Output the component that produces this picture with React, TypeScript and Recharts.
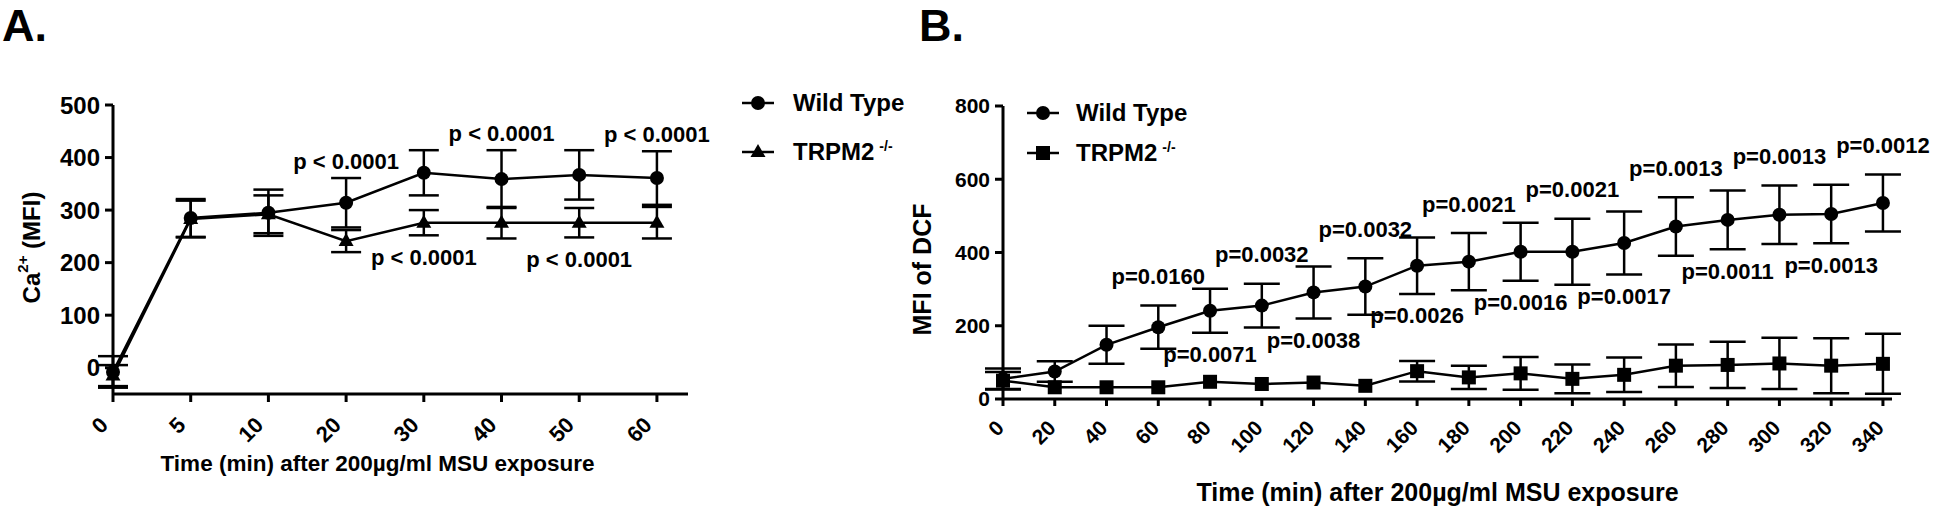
import React from "react";
import {
  ComposedChart,
  Line,
  Scatter,
  XAxis,
  YAxis,
  ErrorBar,
  Legend,
  Label,
} from "recharts";

const FONT = '"Liberation Sans", Arial, Helvetica, sans-serif';

// Panel A: Ca2+ flux
const timesA = ["0", "5", "10", "20", "30", "40", "50", "60"];
const wildTypeA = [-8, 285, 295, 314, 371, 359, 367, 361];
const wildTypeErrA = [30, 36, 44, 47, 43, 55, 47, 51];
const trpm2A = [-15, 283, 292, 241, 276, 276, 276, 276];
const trpm2ErrA = [20, 35, 36, 21, 24, 30, 28, 30];
const pAboveA = ["", "", "", "p < 0.0001", "", "p < 0.0001", "", "p < 0.0001"];
const pBelowA = ["", "", "", "", "p < 0.0001", "", "p < 0.0001", ""];
const yTicksA = [0, 100, 200, 300, 400, 500];

// Panel B: DCF (null = error bar hidden behind the symbol)
const timesB = [0, 20, 40, 60, 80, 100, 120, 140, 160, 180, 200, 220, 240, 260, 280, 300, 320, 340];
const wildTypeB = [55, 75, 148, 196, 241, 255, 291, 307, 364, 375, 402, 402, 426, 471, 489, 503, 505, 535];
const wildTypeErrB = [28, 28, 52, 59, 60, 60, 71, 77, 77, 78, 79, 90, 86, 80, 80, 80, 80, 78];
const trpm2B = [50, 32, 32, 32, 47, 41, 45, 36, 76, 59, 70, 55, 66, 91, 93, 97, 91, 96];
const trpm2ErrB = [24, null, null, null, null, null, null, null, 28, 32, 45, 39, 47, 58, 63, 70, 75, 82];
const pAboveB = ["", "", "", "p=0.0160", "", "p=0.0032", "", "p=0.0032", "", "p=0.0021", "", "p=0.0021", "", "p=0.0013", "", "p=0.0013", "", "p=0.0012"];
const pBelowB = ["", "", "", "", "p=0.0071", "", "p=0.0038", "", "p=0.0026", "", "p=0.0016", "", "p=0.0017", "", "p=0.0011", "", "p=0.0013", ""];
const yTicksB = [0, 200, 400, 600, 800];

type Shape = "circle" | "triangle" | "square";

const legendA = [
  { name: "Wild Type", sup: "", shape: "circle" as Shape },
  { name: "TRPM2", sup: "-/-", shape: "triangle" as Shape },
];
const legendB = [
  { name: "Wild Type", sup: "", shape: "circle" as Shape },
  { name: "TRPM2", sup: "-/-", shape: "square" as Shape },
];

const rowsA = timesA.map((t, i) => ({
  idx: i,
  wt: wildTypeA[i],
  wtErr: wildTypeErrA[i],
  ko: trpm2A[i],
  koErr: trpm2ErrA[i],
}));

const rowsB = timesB.map((t, i) => ({
  time: t,
  wt: wildTypeB[i],
  wtErr: wildTypeErrB[i],
  ko: trpm2B[i],
  koErr: trpm2ErrB[i],
}));

// p-value labels sit just above the WT upper cap / below the lower cap
const annotA = timesA
  .flatMap((_, i) => [
    pAboveA[i] ? { idx: i, pos: wildTypeA[i] + wildTypeErrA[i], text: pAboveA[i], side: "above" } : null,
    pBelowA[i] ? { idx: i, pos: trpm2A[i] - trpm2ErrA[i], text: pBelowA[i], side: "below" } : null,
  ])
  .filter(Boolean);

const annotB = timesB
  .flatMap((t, i) => [
    pAboveB[i] ? { time: t, pos: wildTypeB[i] + wildTypeErrB[i], text: pAboveB[i], side: "above" } : null,
    pBelowB[i] ? { time: t, pos: wildTypeB[i] - wildTypeErrB[i], text: pBelowB[i], side: "below" } : null,
  ])
  .filter(Boolean);

function marker(shape: Shape, cx: number, cy: number, key?: string) {
  if (shape === "circle") return <circle key={key} cx={cx} cy={cy} r={7} fill="#000" />;
  if (shape === "triangle")
    return (
      <polygon
        key={key}
        points={`${cx},${cy - 8} ${cx - 7.5},${cy + 5} ${cx + 7.5},${cy + 5}`}
        fill="#000"
      />
    );
  return <rect key={key} x={cx - 7} y={cy - 7} width={14} height={14} fill="#000" />;
}

const dotRenderer = (shape: Shape) => (props: any) => {
  const { cx, cy, index } = props;
  if (cx == null || cy == null) return <g key={`d-${shape}-${index}`} />;
  return marker(shape, cx, cy, `d-${shape}-${index}`);
};

const pLabel = (above: number, below: number, fontSize: number) => (props: any) => {
  const { cx, cy, payload } = props;
  const y = payload.side === "above" ? cy - above : cy + below;
  return (
    <text
      x={cx}
      y={y}
      textAnchor="middle"
      dominantBaseline="central"
      fontSize={fontSize}
      fontWeight={700}
      fontFamily={FONT}
      fill="#000"
    >
      {payload.text}
    </text>
  );
};

function RotTick(props: any) {
  const { x, y, payload, labels, dx, dy, fontSize } = props;
  const text = labels ? labels[payload.value] : payload.value;
  return (
    <g transform={`translate(${x + dx},${y + dy}) rotate(-45)`}>
      <text
        textAnchor="end"
        dominantBaseline="central"
        fontSize={fontSize}
        fontWeight={700}
        fontFamily={FONT}
        fill="#000"
      >
        {text}
      </text>
    </g>
  );
}

function LegendBox({ items, gap, textGap, fontSize }: any) {
  return (
    <div style={{ display: "flex", flexDirection: "column", gap, fontFamily: FONT }}>
      {items.map((it: any) => (
        <div key={it.name} style={{ display: "flex", alignItems: "center", height: 30 }}>
          <svg width={32} height={20}>
            <line x1={0} x2={32} y1={10} y2={10} stroke="#000" strokeWidth={2.5} />
            {marker(it.shape, 16, 10)}
          </svg>
          <span style={{ marginLeft: textGap, fontSize, fontWeight: 700, whiteSpace: "nowrap", color: "#000" }}>
            {it.name}
            {it.sup && (
              <span style={{ fontSize: 14, verticalAlign: 9, marginLeft: 5 }}>{it.sup}</span>
            )}
          </span>
        </div>
      ))}
    </div>
  );
}

const axisStyle = { stroke: "#000", strokeWidth: 3 };
const titleStyle: React.CSSProperties = {
  position: "absolute",
  top: 0,
  fontSize: 45,
  fontWeight: 700,
  lineHeight: "normal",
  color: "#000",
};

export default function App() {
  return (
    <div
      style={{
        position: "absolute",
        left: 0,
        top: 0,
        width: 1944,
        height: 507,
        background: "#fff",
        fontFamily: FONT,
        overflow: "hidden",
      }}
    >
      <div style={{ ...titleStyle, left: 2 }}>A.</div>
      <div style={{ ...titleStyle, left: 919 }}>B.</div>

      {/* Panel A */}
      <div style={{ position: "absolute", left: 0, top: 0 }}>
        <ComposedChart
          width={920}
          height={507}
          data={rowsA}
          margin={{ top: 105, right: 232, bottom: 0, left: 53 }}
        >
          <XAxis
            dataKey="idx"
            type="number"
            domain={[0, 7.4]}
            ticks={timesA.map((_, i) => i)}
            interval={0}
            height={113}
            tickSize={8}
            axisLine={axisStyle}
            tickLine={axisStyle}
            tick={(p: any) => <RotTick {...p} labels={timesA} dx={-9} dy={17} fontSize={22} />}
          >
            <Label
              content={(p: any) => {
                const vb = p.viewBox || { x: 113, y: 394, width: 575 };
                return (
                  <text
                    x={vb.x + vb.width / 2 - 23}
                    y={vb.y + 69}
                    textAnchor="middle"
                    dominantBaseline="central"
                    fontSize={22.5}
                    fontWeight={700}
                    fontFamily={FONT}
                    fill="#000"
                  >
                    Time (min) after 200µg/ml MSU exposure
                  </text>
                );
              }}
            />
          </XAxis>
          <YAxis
            type="number"
            domain={[-50, 500]}
            ticks={yTicksA}
            allowDataOverflow
            width={60}
            tickSize={8}
            tickMargin={5}
            axisLine={axisStyle}
            tickLine={axisStyle}
            tick={{ fontSize: 24, fontWeight: 700, fill: "#000", fontFamily: FONT }}
          >
            <Label
              content={(p: any) => {
                const vb = p.viewBox || { x: 53, y: 105, height: 289 };
                const cx = vb.x - 22;
                const cy = vb.y + vb.height / 2 - 2;
                return (
                  <text
                    x={cx}
                    y={cy}
                    transform={`rotate(-90, ${cx}, ${cy})`}
                    textAnchor="middle"
                    dominantBaseline="central"
                    fontSize={24}
                    fontWeight={700}
                    fontFamily={FONT}
                    fill="#000"
                  >
                    Ca
                    <tspan fontSize={15} dy={-9}>
                      2+
                    </tspan>
                    <tspan dy={9}> (MFI)</tspan>
                  </text>
                );
              }}
            />
          </YAxis>
          <Legend
            layout="vertical"
            align="center"
            verticalAlign="middle"
            wrapperStyle={{ left: 742, top: 88, width: "auto" }}
            content={() => <LegendBox items={legendA} gap={19} textGap={19} fontSize={24} />}
          />
          <Line
            dataKey="ko"
            stroke="#000"
            strokeWidth={2.5}
            dot={dotRenderer("triangle")}
            activeDot={false}
            isAnimationActive={false}
          >
            <ErrorBar dataKey="koErr" direction="y" width={15} stroke="#000" strokeWidth={2.5} />
          </Line>
          <Line
            dataKey="wt"
            stroke="#000"
            strokeWidth={2.5}
            dot={dotRenderer("circle")}
            activeDot={false}
            isAnimationActive={false}
          >
            <ErrorBar dataKey="wtErr" direction="y" width={15} stroke="#000" strokeWidth={2.5} />
          </Line>
          <Scatter
            data={annotA}
            dataKey="pos"
            shape={pLabel(17, 22, 22)}
            legendType="none"
            isAnimationActive={false}
          />
        </ComposedChart>
      </div>

      {/* Panel B */}
      <div style={{ position: "absolute", left: 880, top: 0 }}>
        <ComposedChart
          width={1064}
          height={507}
          data={rowsB}
          margin={{ top: 106, right: 52, bottom: 0, left: 43 }}
        >
          <XAxis
            dataKey="time"
            type="number"
            domain={[0, 343.5]}
            ticks={timesB}
            interval={0}
            height={108}
            tickSize={7}
            axisLine={axisStyle}
            tickLine={axisStyle}
            tick={(p: any) => <RotTick {...p} dx={-3} dy={16} fontSize={21} />}
          >
            <Label
              content={(p: any) => {
                const vb = p.viewBox || { x: 123, y: 399, width: 889 };
                return (
                  <text
                    x={vb.x + vb.width / 2 - 10}
                    y={vb.y + 93}
                    textAnchor="middle"
                    dominantBaseline="central"
                    fontSize={25}
                    fontWeight={700}
                    fontFamily={FONT}
                    fill="#000"
                  >
                    Time (min) after 200µg/ml MSU exposure
                  </text>
                );
              }}
            />
          </XAxis>
          <YAxis
            type="number"
            domain={[0, 800]}
            ticks={yTicksB}
            allowDataOverflow
            width={80}
            tickSize={8}
            tickMargin={5}
            axisLine={axisStyle}
            tickLine={axisStyle}
            tick={{ fontSize: 21, fontWeight: 700, fill: "#000", fontFamily: FONT }}
          >
            <Label
              content={(p: any) => {
                const vb = p.viewBox || { x: 43, y: 106, height: 293 };
                const cx = vb.x - 1;
                const cy = vb.y + vb.height / 2 + 17;
                return (
                  <text
                    x={cx}
                    y={cy}
                    transform={`rotate(-90, ${cx}, ${cy})`}
                    textAnchor="middle"
                    dominantBaseline="central"
                    fontSize={25}
                    fontWeight={700}
                    fontFamily={FONT}
                    fill="#000"
                  >
                    MFI of DCF
                  </text>
                );
              }}
            />
          </YAxis>
          <Legend
            layout="vertical"
            align="center"
            verticalAlign="middle"
            wrapperStyle={{ left: 147, top: 98, width: "auto" }}
            content={() => <LegendBox items={legendB} gap={10} textGap={17} fontSize={24} />}
          />
          <Line
            dataKey="ko"
            stroke="#000"
            strokeWidth={2.5}
            dot={dotRenderer("square")}
            activeDot={false}
            isAnimationActive={false}
          >
            <ErrorBar dataKey="koErr" direction="y" width={18} stroke="#000" strokeWidth={2.5} />
          </Line>
          <Line
            dataKey="wt"
            stroke="#000"
            strokeWidth={2.5}
            dot={dotRenderer("circle")}
            activeDot={false}
            isAnimationActive={false}
          >
            <ErrorBar dataKey="wtErr" direction="y" width={18} stroke="#000" strokeWidth={2.5} />
          </Line>
          <Scatter
            data={annotB}
            dataKey="pos"
            shape={pLabel(29, 22, 22)}
            legendType="none"
            isAnimationActive={false}
          />
        </ComposedChart>
      </div>
    </div>
  );
}
